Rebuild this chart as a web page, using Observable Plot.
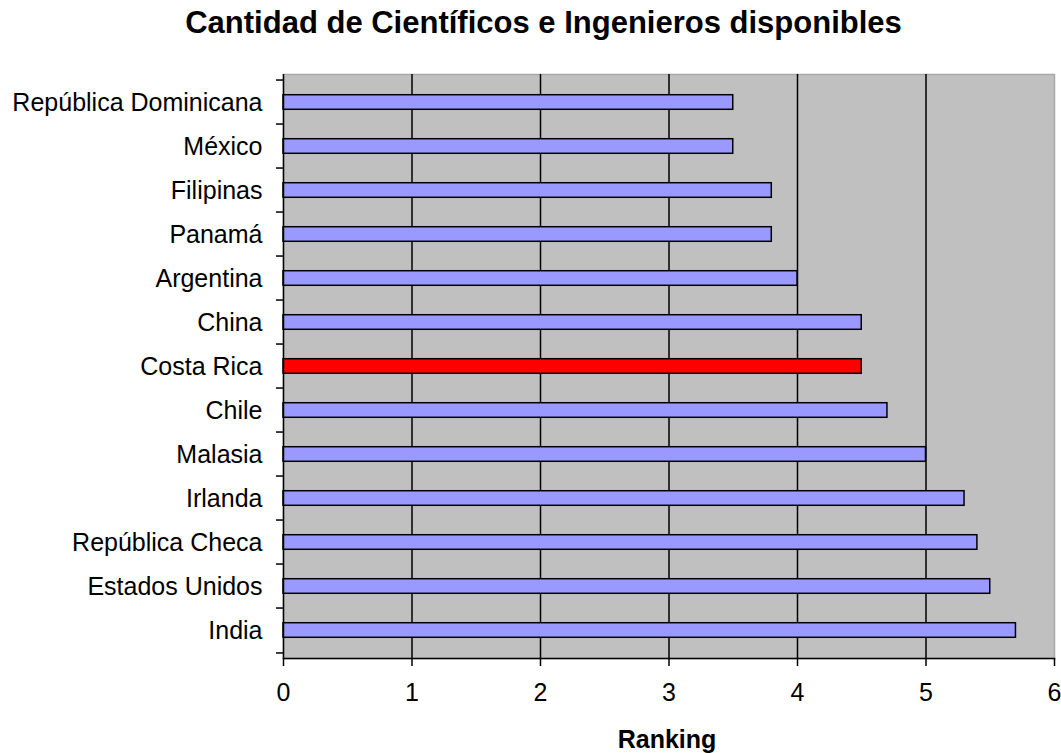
<!DOCTYPE html>
<html>
<head>
<meta charset="utf-8">
<script src="https://cdn.jsdelivr.net/npm/d3@7"></script>
<script src="https://cdn.jsdelivr.net/npm/@observablehq/plot@0.6"></script>
<style>
  html, body { margin: 0; padding: 0; background: #fff; }
  #title {
    box-sizing: border-box;
    width: 1061px; height: 64px;
    padding-top: 5px; padding-left: 26px;
    text-align: center;
    font-family: "Liberation Sans", Arial, sans-serif;
    font-weight: bold; font-size: 31px; line-height: 35px;
    color: #000;
  }
  svg { display: block; }
</style>
</head>
<body>
<div id="title">Cantidad de Científicos e Ingenieros disponibles</div>
<div id="chart"></div>
<script>
const countries = ["República Dominicana", "México", "Filipinas", "Panamá", "Argentina", "China", "Costa Rica", "Chile", "Malasia", "Irlanda", "República Checa", "Estados Unidos", "India"];
const values = [3.5, 3.5, 3.8, 3.8, 4.0, 4.5, 4.5, 4.7, 5.0, 5.3, 5.4, 5.5, 5.7];
const highlighted = "Costa Rica";
const xTicks = [0, 1, 2, 3, 4, 5, 6];
const gridValues = [1, 2, 3, 4, 5];
const xLabel = "Ranking";

const data = countries.map((c, i) => ({country: c, value: values[i]}));

const height = 689, marginTop = 10, marginBottom = 95;
const bw = (height - marginTop - marginBottom) / countries.length;

const chart = Plot.plot({
  width: 1061,
  height,
  marginTop,
  marginBottom,
  marginLeft: 283,
  marginRight: 7,
  style: {fontFamily: '"Liberation Sans", Arial, sans-serif', fontSize: "25px", color: "#000", background: "#fff"},
  x: {domain: [0, 6], axis: null},
  y: {domain: countries, padding: 0, axis: null},
  color: {type: "identity"},
  marks: [
    Plot.frame({fill: "#c0c0c0", stroke: "#a8a8a8", strokeWidth: 1.5}),
    Plot.ruleX(gridValues, {stroke: "#000", strokeWidth: 1.5}),
    Plot.barX(data, {
      x: "value", y: "country",
      fill: d => d.country === highlighted ? "#ff0000" : "#9999ff",
      stroke: "#000", strokeWidth: 1.5,
      insetTop: (bw - 15.5) / 2, insetBottom: (bw - 15.5) / 2
    }),
    Plot.ruleX([0], {stroke: "#000", strokeWidth: 1.5}),
    Plot.frame({anchor: "bottom", stroke: "#000", strokeWidth: 1.5}),
    Plot.axisX(xTicks, {tickSize: 8, tickPadding: 17, strokeWidth: 1.5, tickFormat: d => String(d), label: null, fontSize: 25}),
    Plot.axisY({tickSize: 0, tickPadding: 21, label: null, fontSize: 25}),
    Plot.axisY({tickSize: 7, text: null, label: null, dy: -bw / 2, strokeWidth: 1.5}),
    Plot.axisY([countries[countries.length - 1]], {tickSize: 7, text: null, label: null, dy: bw / 2, strokeWidth: 1.5}),
    Plot.text([xLabel], {frameAnchor: "bottom", lineAnchor: "bottom", dy: 89, dx: -2, fontWeight: "bold", fontSize: 25, text: d => d})
  ]
});
document.getElementById("chart").appendChild(chart);
</script>
</body>
</html>
